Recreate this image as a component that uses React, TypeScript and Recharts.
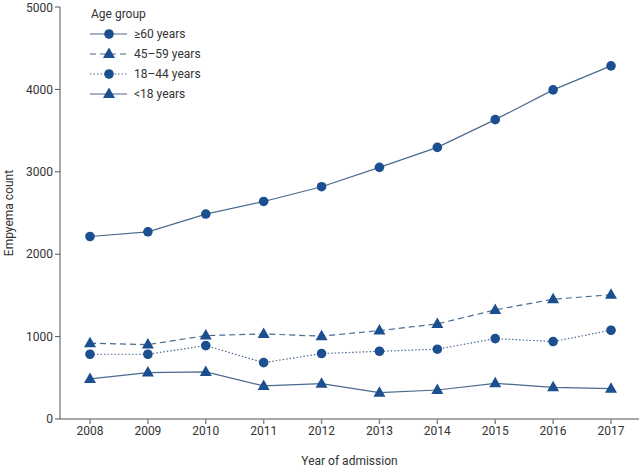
import { LineChart, Line, XAxis, YAxis } from 'recharts';

// Empyema admissions by age group, 2008–2017
const YEARS = ['2008', '2009', '2010', '2011', '2012', '2013', '2014', '2015', '2016', '2017'];
const OVER_60 = [2215, 2272, 2487, 2640, 2819, 3054, 3297, 3633, 3994, 4285];
const AGE_45_59 = [920, 903, 1012, 1033, 1005, 1073, 1154, 1324, 1454, 1507];
const AGE_18_44 = [786, 786, 891, 684, 794, 822, 847, 976, 940, 1077];
const UNDER_18 = [486, 563, 571, 401, 429, 320, 352, 433, 385, 368];
const Y_TICKS = [0, 1000, 2000, 3000, 4000, 5000];

const data = YEARS.map((year, i) => ({
  year,
  over60: OVER_60[i],
  a4559: AGE_45_59[i],
  a1844: AGE_18_44[i],
  under18: UNDER_18[i],
}));

const LINE_COLOR = '#4a6a8e';
const MARK_COLOR = '#1b4f8f';
const FONT = 'Roboto, "DejaVu Sans", sans-serif';

const SERIES = [
  { key: 'over60', label: '\u226560 years', dash: undefined, shape: 'circle' },
  { key: 'a4559', label: '45\u201359 years', dash: '6 4', shape: 'triangle' },
  { key: 'a1844', label: '18\u201344 years', dash: '1.5 2', shape: 'circle' },
  { key: 'under18', label: '<18 years', dash: undefined, shape: 'triangle' },
];

function Marker({ cx, cy, shape }: { cx?: number; cy?: number; shape: string }) {
  if (cx == null || cy == null) return null;
  if (shape === 'circle') {
    return <circle cx={cx} cy={cy} r={4.8} fill={MARK_COLOR} stroke="none" />;
  }
  return (
    <polygon
      points={`${cx},${cy - 6.5} ${cx - 6},${cy + 4} ${cx + 6},${cy + 4}`}
      fill={MARK_COLOR}
      stroke="none"
    />
  );
}

// legend drawn as a plain overlay so it doesn't steal room from the plot
function AgeLegend() {
  return (
    <div style={{ position: 'absolute', top: 4, left: 89, fontFamily: FONT, fontSize: 12, color: '#333' }}>
      <div style={{ height: 20, lineHeight: '20px', marginLeft: 2 }}>Age group</div>
      {SERIES.map((s) => (
        <div key={s.key} style={{ display: 'flex', alignItems: 'center', height: 20 }}>
          <svg width={45} height={20}>
            <line x1={1} y1={10} x2={38} y2={10} stroke={LINE_COLOR} strokeWidth={1.2} strokeDasharray={s.dash} />
            <Marker cx={20} cy={10} shape={s.shape} />
          </svg>
          <span>{s.label}</span>
        </div>
      ))}
    </div>
  );
}

export default function App() {
  return (
    <div style={{ position: 'absolute', top: 0, left: 0, width: 640, height: 467, background: '#fff' }}>
      <LineChart width={640} height={467} data={data} margin={{ top: 7, right: 1, left: 0, bottom: 0 }}>
        <XAxis
          dataKey="year"
          height={48}
          padding={{ left: 30, right: 28 }}
          stroke="#8a8a8a"
          strokeWidth={1.5}
          tick={{ fill: '#333', fontSize: 12, fontFamily: FONT }}
          tickLine={{ stroke: '#8a8a8a' }}
          tickSize={5}
          label={{ value: 'Year of admission', position: 'insideBottom', offset: 2, fill: '#333', fontSize: 12, fontFamily: FONT }}
        />
        <YAxis
          width={60}
          domain={[0, 5000]}
          ticks={Y_TICKS}
          stroke="#555"
          tick={{ fill: '#333', fontSize: 12, fontFamily: FONT }}
          tickSize={5}
          label={{ value: 'Empyema count', angle: -90, position: 'insideLeft', offset: 9, fill: '#333', fontSize: 12, fontFamily: FONT, style: { textAnchor: 'middle' } }}
        />
        {SERIES.map((s) => (
          <Line
            key={s.key}
            dataKey={s.key}
            type="linear"
            stroke={LINE_COLOR}
            strokeWidth={1.2}
            strokeDasharray={s.dash}
            dot={(p: any) => <Marker key={`${s.key}-${p.index}`} cx={p.cx} cy={p.cy} shape={s.shape} />}
            activeDot={false}
            isAnimationActive={false}
          />
        ))}
      </LineChart>
      <AgeLegend />
    </div>
  );
}
